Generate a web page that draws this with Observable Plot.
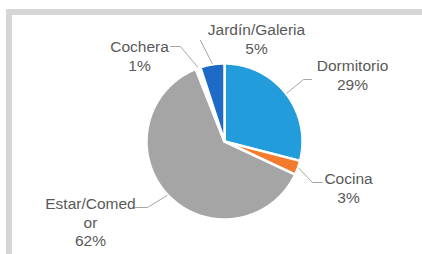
<!DOCTYPE html>
<html><head><meta charset="utf-8">
<script src="https://cdn.jsdelivr.net/npm/d3@7"></script>
<script src="https://cdn.jsdelivr.net/npm/@observablehq/plot@0.6"></script>
<style>
body{margin:0;background:#fff;}
#wrap{position:relative;width:422px;height:254px;overflow:hidden;background:#fff;}
#frame{position:absolute;left:6px;top:9px;width:440px;height:270px;border-top:6px solid #d6d6d6;border-left:6px solid #d6d6d6;box-sizing:border-box;}
#chart{position:absolute;left:0;top:0;}
</style></head><body>
<div id="wrap"><div id="frame"></div><div id="chart"></div></div>
<script>
// data
const categories = ["Dormitorio", "Cocina", "Estar/Comedor", "Cochera", "Jardín/Galeria"];
const labelTexts = ["Dormitorio", "Cocina", "Estar/Comed\nor", "Cochera", "Jardín/Galeria"];
const values = [29, 3, 62, 1, 5];

// styles / layout
const colors = ["#229cda", "#f47b2e", "#a5a5a5", "#ffffff", "#1d6bc6"];
const W = 422, H = 254;
const cx = 224, cy = 141, R = 78;
// label block anchors: [center x, top y]
const labelPos = [[352, 58], [348, 171], [90, 196], [139, 39], [256, 22]];
// leader elbows (from label side toward the pie)
const leaderElbows = [
  [[311, 79], [303, 79]],
  [[322, 182], [312, 182]],
  [[135, 207], [147, 207]],
  [[170, 46], [180, 46]],
  [[200, 40]]
];

const arcs = d3.pie().sort(null).value(d => d)(values);

const slicePts = [];
arcs.forEach((a, i) => {
  const name = categories[i];
  slicePts.push({name, x: cx, y: cy});
  const n = Math.max(2, Math.ceil((a.endAngle - a.startAngle) / 0.01));
  for (let k = 0; k <= n; k++) {
    const t = a.startAngle + (a.endAngle - a.startAngle) * k / n;
    slicePts.push({name, x: cx + R * Math.sin(t), y: cy - R * Math.cos(t)});
  }
});

const leaderPts = [];
arcs.forEach((a, i) => {
  const name = categories[i];
  leaderElbows[i].forEach(([x, y]) => leaderPts.push({name, x, y}));
  const m = (a.startAngle + a.endAngle) / 2;
  leaderPts.push({name, x: cx + (R + 1) * Math.sin(m), y: cy - (R + 1) * Math.cos(m)});
});

const labelData = categories.map((c, i) => ({
  name: c,
  x: labelPos[i][0],
  y: labelPos[i][1],
  text: labelTexts[i] + "\n" + values[i] + "%"
}));

const chart = Plot.plot({
  width: W, height: H,
  margin: 0,
  x: {domain: [0, W], range: [0, W], axis: null},
  y: {domain: [0, H], range: [0, H], axis: null},
  color: {domain: categories, range: colors},
  style: {fontFamily: "'Liberation Sans', Arial, sans-serif", background: "transparent"},
  marks: [
    Plot.line(slicePts, {x: "x", y: "y", z: "name", fill: "name", stroke: "white", strokeWidth: 2.5, strokeLinejoin: "round", curve: "linear-closed"}),
    Plot.line(leaderPts, {x: "x", y: "y", z: "name", stroke: "#a6a6a6", strokeWidth: 1}),
    Plot.text(labelData, {x: "x", y: "y", text: "text", lineAnchor: "top", lineHeight: 1.17, fontSize: 15.5, fill: "#595959"})
  ]
});
document.getElementById("chart").appendChild(chart);
</script>
</body></html>
